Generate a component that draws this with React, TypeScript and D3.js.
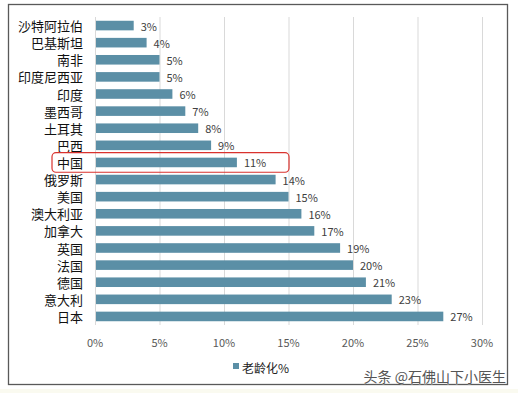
import { useEffect, useRef } from 'react'
import * as d3 from 'd3'

const categories = ['沙特阿拉伯', '巴基斯坦', '南非', '印度尼西亚', '印度', '墨西哥', '土耳其', '巴西', '中国', '俄罗斯', '美国', '澳大利亚', '加拿大', '英国', '法国', '德国', '意大利', '日本']
const agingValues = [3, 4, 5, 5, 6, 7, 8, 9, 11, 14, 15, 16, 17, 19, 20, 21, 23, 27]
const xTicks = [0, 5, 10, 15, 20, 25, 30]
const seriesName = '老龄化%'
const highlight = '中国'

export default function App() {
  const svgRef = useRef<SVGSVGElement>(null)
  const width = 518
  const height = 393

  useEffect(() => {
    if (!svgRef.current) return
    const svg = d3.select(svgRef.current)
    svg.selectAll('*').remove()

    const font = '"Noto Sans CJK SC", "Noto Sans", sans-serif'

    // 背景
    svg.append('rect').attr('width', width).attr('height', height).attr('fill', '#fff')
    svg.append('rect').attr('y', 389).attr('width', width).attr('height', 4).attr('fill', '#fafaf0')
    svg.append('rect')
      .attr('x', 8.5).attr('y', 4.5).attr('width', 499).attr('height', 380)
      .attr('fill', '#fff').attr('stroke', '#595959').attr('stroke-width', 1.3)

    const x = d3.scaleLinear().domain([0, 30]).range([95, 482])
    const y = d3.scaleBand<string>().domain(categories).range([17, 325]).paddingInner(0.44).paddingOuter(0.22)

    // 网格线
    svg.append('g').selectAll('line').data(xTicks).join('line')
      .attr('x1', d => x(d) + 0.5).attr('x2', d => x(d) + 0.5)
      .attr('y1', 17).attr('y2', 325)
      .attr('stroke', '#d9d9d9').attr('stroke-width', 1)

    // 条形
    svg.append('g').selectAll('rect').data(agingValues).join('rect')
      .attr('x', x(0) + 1)
      .attr('y', (_, i) => y(categories[i])!)
      .attr('width', d => x(d) - x(0) - 1)
      .attr('height', y.bandwidth())
      .attr('fill', '#5b8fa6')

    // 数值标签
    svg.append('g').selectAll('text').data(agingValues).join('text')
      .attr('x', d => x(d) + 7)
      .attr('y', (_, i) => y(categories[i])! + y.bandwidth() / 2)
      .attr('dominant-baseline', 'central')
      .attr('font-family', font).attr('font-size', '11px').attr('fill', '#404040')
      .text(d => `${d}%`)

    // 类别标签
    svg.append('g').selectAll('text').data(categories).join('text')
      .attr('x', 83)
      .attr('y', d => y(d)! + y.bandwidth() / 2)
      .attr('text-anchor', 'end').attr('dominant-baseline', 'central')
      .attr('font-family', font).attr('font-size', '13px').attr('fill', '#111')
      .text(d => d)

    // x 轴刻度
    svg.append('g').selectAll('text').data(xTicks).join('text')
      .attr('x', d => x(d))
      .attr('y', 342)
      .attr('text-anchor', 'middle').attr('dominant-baseline', 'central')
      .attr('font-family', font).attr('font-size', '11px').attr('fill', '#595959')
      .text(d => `${d}%`)

    // 中国 红框
    const hy = y(highlight)!
    svg.append('rect')
      .attr('x', 52).attr('y', hy - 5).attr('width', 237).attr('height', y.bandwidth() + 10)
      .attr('rx', 4).attr('ry', 4)
      .attr('fill', 'none').attr('stroke', '#d9322e').attr('stroke-width', 1.2)

    // 图例
    svg.append('rect').attr('x', 233).attr('y', 363).attr('width', 6).attr('height', 6).attr('fill', '#5b8fa6')
    svg.append('text')
      .attr('x', 242).attr('y', 367)
      .attr('dominant-baseline', 'central')
      .attr('font-family', font).attr('font-size', '12px').attr('fill', '#222')
      .text(seriesName)

    // 水印
    svg.append('text')
      .attr('x', 506).attr('y', 376)
      .attr('text-anchor', 'end').attr('dominant-baseline', 'central')
      .attr('font-family', font).attr('font-size', '14px')
      .attr('fill', '#555').attr('stroke', '#fff').attr('stroke-width', 0.6)
      .attr('paint-order', 'stroke')
      .text('头条 @石佛山下小医生')
  }, [])

  return (
    <svg ref={svgRef} width={width} height={height} style={{ position: 'absolute', left: 0, top: 0 }} />
  )
}
